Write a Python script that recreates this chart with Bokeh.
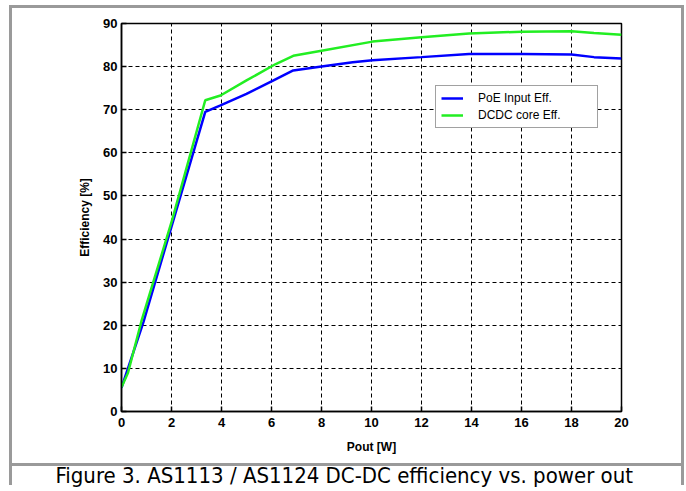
from bokeh.plotting import figure
from bokeh.models import Range1d, FixedTicker, Legend, LegendItem, Title
from bokeh.embed import file_html
from bokeh.resources import INLINE

# ---- data ----
poe_x = [0.0, 0.88, 2.0, 3.35, 3.96, 5.0, 6.08, 6.87, 8.0, 9.25, 10.04, 12.0, 13.9, 16.0, 18.0, 18.9, 20.0]
poe_y = [5.5, 20.8, 42.9, 69.5, 71.0, 73.7, 76.8, 79.1, 80.0, 81.0, 81.5, 82.2, 82.9, 82.9, 82.8, 82.2, 81.9]
dcdc_x = [0.0, 0.26, 0.8, 2.03, 3.35, 3.96, 5.0, 6.17, 6.87, 8.0, 10.04, 12.0, 13.9, 16.0, 18.0, 18.9, 20.0]
dcdc_y = [5.6, 9.0, 21.0, 44.5, 72.2, 73.3, 76.8, 80.6, 82.5, 83.7, 85.8, 86.8, 87.7, 88.1, 88.2, 87.8, 87.4]
x_ticks = [0, 2, 4, 6, 8, 10, 12, 14, 16, 18, 20]
y_ticks = [0, 10, 20, 30, 40, 50, 60, 70, 80, 90]
series_names = ["PoE Input Eff.", "DCDC core Eff."]
x_label = "Pout [W]"
y_label = "Efficiency [%]"
caption = "Figure 3.  AS1113 / AS1124 DC-DC efficiency vs. power out"

W, H = 686, 491
grey = "#9a9a9a"
frame_css = {
    "background-image": ", ".join([f"linear-gradient({grey}, {grey})"] * 4),
    "background-size": "675px 3px, 3px 480px, 675px 3px, 3px 480px",
    "background-position": "9px 5px, 9px 5px, 9px 463px, 681px 5px",
    "background-repeat": "no-repeat",
    "background-color": "white",
}

p = figure(width=W, height=H, output_backend="svg", toolbar_location=None,
           x_range=Range1d(0, 20), y_range=Range1d(0, 90),
           min_border_left=121, min_border_right=65, min_border_top=23, min_border_bottom=79,
           styles=frame_css)
p.background_fill_color = "white"
p.border_fill_color = None
p.outline_line_color = "black"
p.outline_line_width = 1.5

for ax, ticks in ((p.xaxis[0], x_ticks), (p.yaxis[0], y_ticks)):
    ax.ticker = FixedTicker(ticks=ticks)
    ax.major_tick_in = 5
    ax.major_tick_out = 0
    ax.minor_tick_line_color = None
    ax.axis_line_color = "black"
    ax.axis_line_width = 1.5
    ax.major_tick_line_color = "black"
    ax.major_tick_line_width = 1.5
    ax.major_label_text_font = "Liberation Sans"
    ax.major_label_text_font_style = "bold"
    ax.major_label_text_font_size = "13px"
    ax.major_label_text_color = "black"
    ax.axis_label_text_font = "Liberation Sans"
    ax.axis_label_text_font_style = "bold"
    ax.axis_label_text_font_size = "12px"
    ax.axis_label_text_color = "black"

p.xaxis.major_label_standoff = 6
p.xaxis.axis_label = x_label
p.xaxis.axis_label_standoff = 10
p.yaxis.major_label_standoff = 4
p.yaxis.axis_label = y_label
p.yaxis.axis_label_standoff = 8

for g in (p.xgrid[0], p.ygrid[0]):
    g.grid_line_color = "black"
    g.grid_line_dash = "4 3"
    g.grid_line_width = 1

r1 = p.line(poe_x, poe_y, line_color="#0000ff", line_width=2.5)
r2 = p.line(dcdc_x, dcdc_y, line_color="#22ee22", line_width=2.5)

legend = Legend(items=[LegendItem(label=series_names[0], renderers=[r1]),
                       LegendItem(label=series_names[1], renderers=[r2])],
                location=(314, 283), margin=0, padding=5, spacing=3,
                glyph_width=22, glyph_height=14, label_height=14, label_width=114,
                label_standoff=15, label_text_font="Liberation Sans",
                label_text_font_size="12px", label_text_color="black",
                border_line_color="#444444", border_line_width=1.5,
                background_fill_color="white", background_fill_alpha=1.0)
p.add_layout(legend, "center")

cap = Title(text=caption, align="left", offset=-66, standoff=8,
            text_font="'DejaVu Sans Condensed', 'Liberation Sans'",
            text_font_size="22px", text_font_style="normal", text_color="black")
p.add_layout(cap, "below")

open("out.html", "w").write(file_html(p, INLINE))
